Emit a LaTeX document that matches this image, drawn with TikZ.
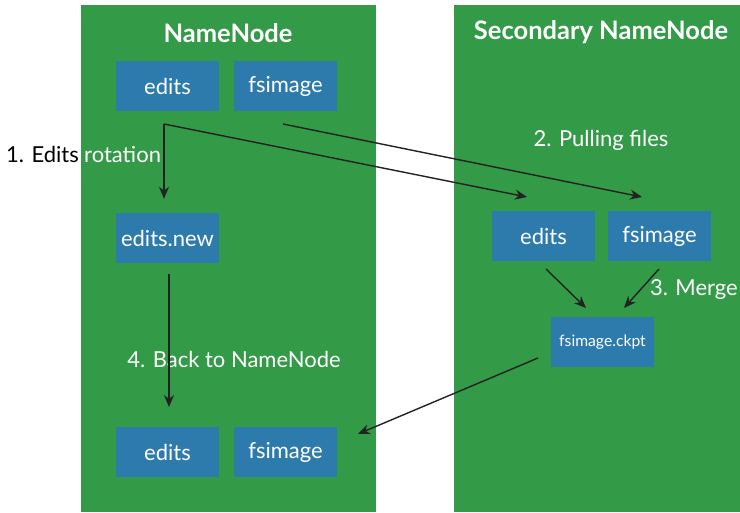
\documentclass[tikz,border=0pt]{standalone}
\usepackage{fontspec}
\setmainfont{Lato}
\usetikzlibrary{arrows.meta}

\definecolor{panelgreen}{HTML}{339A48}
\definecolor{fileblue}{HTML}{2D7BAC}
\definecolor{arrowgray}{HTML}{222222}

\tikzset{
    file/.style={fill=fileblue, text=white, minimum width=103pt, minimum height=50pt,
        inner sep=0pt, font=\fontsize{22}{26}\selectfont},
    title/.style={text=white, inner sep=0pt, font=\fontsize{25.5}{30}\selectfont\bfseries},
    steplabel/.style={text=white, inner sep=0pt, font=\fontsize{22}{26}\selectfont},
    flow/.style={draw=arrowgray, line width=1.4pt, -{Stealth[length=12pt, width=10pt]}}
}

\begin{document}
\begin{tikzpicture}[x=1pt, y=-1pt]

        \useasboundingbox (0,0) rectangle (740,513);

        % the two machines
        \fill[panelgreen] (81,5) rectangle (376,512);
        \fill[panelgreen] (454,5) rectangle (740,512);

        \node[title] (nntitle) at (228,33) {NameNode};
        \node[title] (sntitle) at (601,32) {Secondary NameNode};

        % files on the NameNode
        \node[file] (nnedits) at (167.5,86) {edits};
        \node[file] (nnimage) at (285.5,86) {fsimage};
        \node[file] (editsnew) at (167.5,238) {edits.new};
        \node[file] (newedits) at (167.5,452) {edits};
        \node[file] (newimage) at (285.5,452) {fsimage};

        % files on the Secondary NameNode
        \node[file] (snedits) at (543.5,236) {edits};
        \node[file] (snimage) at (659.5,236) {fsimage};
        \node[file, font=\fontsize{15.7}{19}\selectfont] (ckpt) at (602.5,342) {fsimage.ckpt};

        % step labels
        \node[steplabel, text=black, anchor=east] (rotlabel) at (79,154) {1. Edits};
        \node[steplabel, anchor=base west] (rotword) at ([xshift=5pt]rotlabel.base east) {rotation};
        \node[steplabel] (pulllabel) at (601,140) {2. Pulling files};
        \node[steplabel, anchor=east] (mergelabel) at (738,290) {3. Merge};
        \node[steplabel] (backlabel) at (234,359) {4. Back to NameNode};

        % arrow ends
        \coordinate (fork) at (164,124);
        \coordinate (imgstart) at (283,124);
        \coordinate (pulledits) at (527,197);
        \coordinate (pullimage) at (642,197);
        \coordinate (mergeedits) at (546,269);
        \coordinate (mergeimage) at (659,269);
        \coordinate (ckptin1) at (586,308);
        \coordinate (ckptin2) at (624,308);
        \coordinate (newstart) at (169,274);
        \coordinate (newend) at (169,407);
        \coordinate (ckptout) at (538,358);
        \coordinate (backend) at (358,434);

        \draw[flow] (fork) -- (fork |- editsnew.north) [shorten >=14pt];
        \draw[flow] (fork) -- (pulledits);
        \draw[flow] (imgstart) -- (pullimage);
        \draw[flow] (mergeedits) -- (ckptin1);
        \draw[flow] (mergeimage) -- (ckptin2);
        \draw[flow] (newstart) -- (newend);
        \draw[flow] (ckptout) -- (backend);

    \end{tikzpicture}
\end{document}
